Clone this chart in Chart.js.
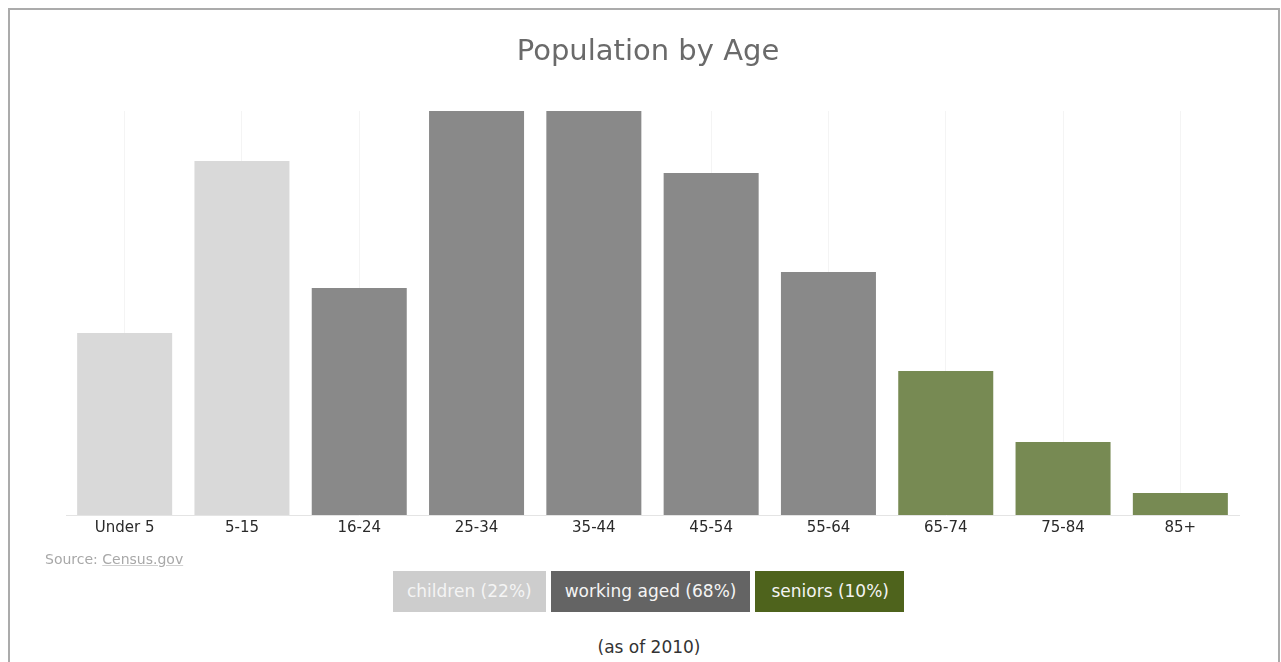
<!DOCTYPE html>
<html>
<head>
<meta charset="utf-8">
<title>Population by Age</title>
<script src="https://cdn.jsdelivr.net/npm/chart.js@4/dist/chart.umd.min.js"></script>
<style>
  html, body { margin: 0; padding: 0; background: #fff; overflow: hidden; }
  body { width: 1281px; height: 662px; position: relative; font-family: "DejaVu Sans", sans-serif; }
  #frame {
    position: absolute; left: 8px; top: 8px; width: 1268px; height: 700px;
    border: 2px solid #ababab; border-bottom: none; box-sizing: content-box;
  }
  #chartBox { position: absolute; left: 0; top: 0; width: 1281px; height: 560px; }
  #title {
    position: absolute; left: 648px; top: 30px; transform: translateX(-50%);
    font-size: 29px; line-height: 40px; color: #6a6a6a; white-space: nowrap;
  }
  #source {
    position: absolute; left: 45px; top: 550px; font-size: 14px; line-height: 18px;
    color: #a8a8a8; white-space: nowrap;
  }
  #source a { color: #a8a8a8; text-decoration: underline; text-decoration-color: #d0d0d0; }
  #legend {
    position: absolute; left: 393px; top: 571px; display: flex; gap: 5px;
  }
  #legend span {
    display: block; height: 41px; line-height: 41px; padding: 0 14px;
    font-size: 17px; color: #f4f4f4; white-space: nowrap;
  }
  #legend span:last-child { padding: 0 15px 0 16px; }
  #note {
    position: absolute; left: 649px; top: 636px; transform: translateX(-50%);
    font-size: 17px; line-height: 22px; color: #333; white-space: nowrap;
  }
</style>
</head>
<body>
<div id="frame"></div>
<div id="chartBox"><canvas id="chart"></canvas></div>
<div id="title">Population by Age</div>
<div id="source">Source: <a>Census.gov</a></div>
<div id="legend"></div>
<div id="note">(as of 2010)</div>

<script>
// Age brackets along the x axis
const ageGroups = ['Under 5', '5-15', '16-24', '25-34', '35-44', '45-54', '55-64', '65-74', '75-84', '85+'];

// Population per bracket, millions
const population = [18.2, 35.4, 22.7, 40.4, 40.4, 34.2, 24.3, 14.4, 7.3, 2.2];

// Which life stage each bracket belongs to
const stageOfGroup = ['children', 'children', 'working', 'working', 'working', 'working', 'working', 'seniors', 'seniors', 'seniors'];

// Life stages shown in the key below the chart
const stageKeys = ['children', 'working', 'seniors'];
const stageNames = ['children', 'working aged', 'seniors'];

// Styling for each life stage
const barColors = { children: '#d9d9d9', working: '#898989', seniors: '#778a53' };
const keyColors = { children: '#cdcdcd', working: '#646464', seniors: '#4e631c' };

// Key labels with each stage's share of the total
const total = population.reduce((a, b) => a + b, 0);
const legendEl = document.getElementById('legend');
stageKeys.forEach((key, i) => {
  const sum = population.filter((v, j) => stageOfGroup[j] === key).reduce((a, b) => a + b, 0);
  const pct = Math.round(sum / total * 100);
  const span = document.createElement('span');
  span.textContent = stageNames[i] + ' (' + pct + '%)';
  span.style.background = keyColors[key];
  legendEl.appendChild(span);
});

new Chart(document.getElementById('chart'), {
  type: 'bar',
  data: {
    labels: ageGroups,
    datasets: [{
      data: population,
      backgroundColor: stageOfGroup.map(s => barColors[s]),
      borderWidth: 0,
      categoryPercentage: 1,
      barPercentage: 0.81
    }]
  },
  options: {
    responsive: true,
    maintainAspectRatio: false,
    animation: false,
    layout: { padding: { left: 66, right: 42, top: 111, bottom: 19 } },
    plugins: {
      legend: { display: false },
      tooltip: { enabled: false },
      title: { display: false }
    },
    scales: {
      x: {
        z: 1,
        offset: true,
        grid: {
          offset: false,
          color: 'rgba(0,0,0,0.045)',
          lineWidth: 1,
          drawTicks: false
        },
        border: { display: true, color: '#e4e4e4', width: 1 },
        ticks: {
          padding: 4,
          color: '#2a2a2a',
          font: { family: 'DejaVu Sans', size: 15 }
        }
      },
      y: {
        display: false,
        min: 0,
        max: Math.max(...population)
      }
    }
  }
});
</script>
</body>
</html>
